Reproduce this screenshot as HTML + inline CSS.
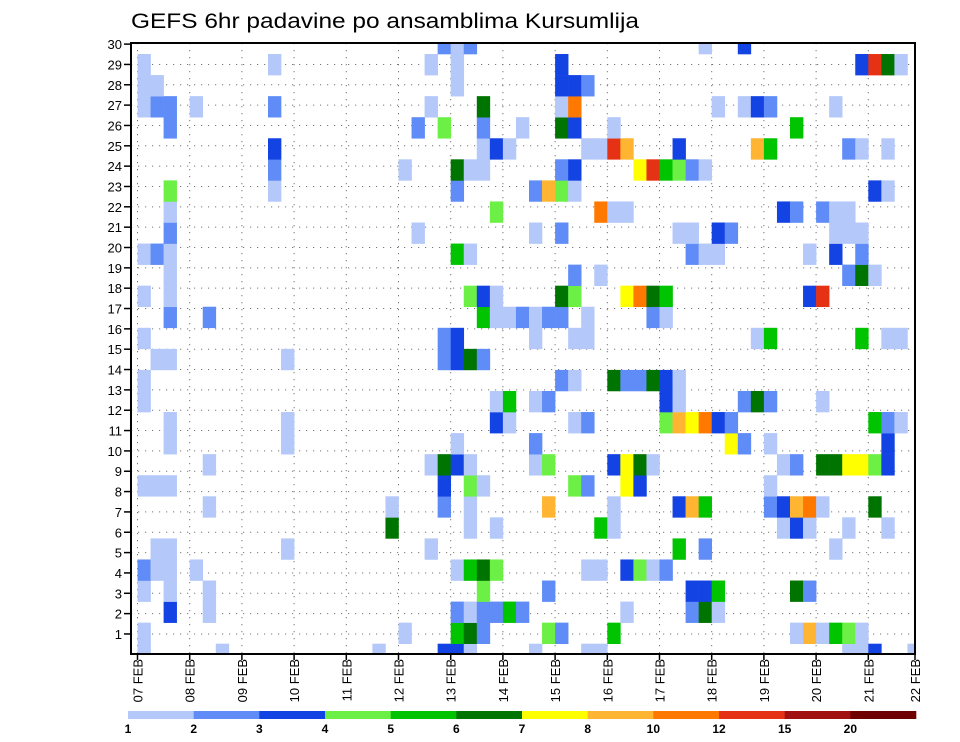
<!DOCTYPE html>
<html><head><meta charset="utf-8"><style>
html,body{margin:0;padding:0;background:#fff;}
svg{display:block;font-family:"Liberation Sans",sans-serif;}
</style></head><body>
<svg id="chart" width="960" height="742" viewBox="0 0 960 742" xmlns="http://www.w3.org/2000/svg">
<rect x="0" y="0" width="960" height="742" fill="#fff"/>
<text x="131" y="28" font-size="21" textLength="508" lengthAdjust="spacingAndGlyphs" fill="#000">GEFS 6hr padavine po ansamblima Kursumlija</text>
<defs><clipPath id="plotclip"><rect x="131" y="43" width="784" height="611"/></clipPath></defs>
<g id="grid"></g>
<g id="cells" clip-path="url(#plotclip)"></g>
<g id="axes"></g>
<g id="colorbar"></g>
</svg>
<script>
// ---- data ----
const dayLabels = ["07 FEB","08 FEB","09 FEB","10 FEB","11 FEB","12 FEB","13 FEB","14 FEB","15 FEB","16 FEB","17 FEB","18 FEB","19 FEB","20 FEB","21 FEB","22 FEB"];
const yTickLabels = [1,2,3,4,5,6,7,8,9,10,11,12,13,14,15,16,17,18,19,20,21,22,23,24,25,26,27,28,29,30];
const levelBreaks = [1,2,3,4,5,6,7,8,10,12,15,20];
const levelColors = ["#b4c8fa","#5f8cf6","#1443e4","#6cf046","#00c400","#007400","#ffff00","#ffb432","#ff7800","#e63214","#a01010","#700000"];
// member rows (index 0 = bottom) : "step:precip" pairs
const member29 = "23:2.5 24:1.5 25:2.5 43:1.5 46:3.5";
const member28 = "0:1.5 10:1.5 22:1.5 24:1.5 32:3.5 55:3.5 56:13 57:6.5 58:1.5";
const member27 = "0:1.5 1:1.5 24:1.5 32:3.5 33:3.5 34:2.5";
const member26 = "0:1.5 1:2.5 2:2.5 4:1.5 10:2.5 22:1.5 26:6.5 32:1.5 33:11 44:1.5 46:1.5 47:3.5 48:2.5 53:1.5";
const member25 = "2:2.5 21:2.5 23:4.5 26:2.5 29:1.5 32:6.5 33:3.5 36:1.5 50:5.5";
const member24 = "10:3.5 26:1.5 27:3.5 28:1.5 34:1.5 35:1.5 36:13 37:9 41:3.5 47:9 48:5.5 54:2.5 55:1.5 57:1.5";
const member23 = "10:2.5 20:1.5 24:6.5 25:1.5 26:1.5 32:2.5 33:3.5 38:7.5 39:13 40:5.5 41:4.5 42:2.5 43:1.5";
const member22 = "2:4.5 10:1.5 24:2.5 30:2.5 31:9 32:4.5 33:1.5 56:3.5 57:1.5";
const member21 = "2:1.5 27:4.5 35:11 36:1.5 37:1.5 49:3.5 50:2.5 52:2.5 53:1.5 54:1.5";
const member20 = "2:2.5 21:1.5 30:1.5 32:2.5 41:1.5 42:1.5 44:3.5 45:2.5 53:1.5 54:1.5 55:1.5";
const member19 = "0:1.5 1:2.5 2:1.5 24:5.5 25:1.5 42:2.5 43:1.5 44:1.5 51:1.5 53:3.5 55:2.5";
const member18 = "2:1.5 33:2.5 35:1.5 54:2.5 55:6.5 56:1.5";
const member17 = "0:1.5 2:1.5 25:4.5 26:3.5 27:1.5 32:6.5 33:4.5 37:7.5 38:11 39:6.5 40:5.5 51:3.5 52:13";
const member16 = "2:2.5 5:2.5 26:5.5 27:1.5 28:1.5 29:2.5 30:1.5 31:2.5 32:2.5 34:1.5 39:2.5 40:1.5";
const member15 = "0:1.5 23:2.5 24:3.5 30:1.5 33:1.5 34:1.5 47:1.5 48:5.5 55:5.5 57:1.5 58:1.5";
const member14 = "1:1.5 2:1.5 11:1.5 23:2.5 24:3.5 25:6.5 26:2.5";
const member13 = "0:1.5 32:2.5 33:1.5 36:6.5 37:2.5 38:2.5 39:6.5 40:3.5 41:1.5";
const member12 = "0:1.5 27:1.5 28:5.5 30:1.5 31:2.5 40:3.5 41:1.5 46:2.5 47:6.5 48:2.5 52:1.5";
const member11 = "2:1.5 11:1.5 27:3.5 28:1.5 33:1.5 34:2.5 40:4.5 41:9 42:7.5 43:11 44:3.5 45:2.5 56:5.5 57:2.5 58:1.5";
const member10 = "2:1.5 11:1.5 24:1.5 30:2.5 45:7.5 46:2.5 48:1.5 57:3.5";
const member9 = "5:1.5 22:1.5 23:6.5 24:3.5 25:1.5 30:1.5 31:4.5 36:3.5 37:7.5 38:6.5 39:1.5 49:1.5 50:2.5 52:6.5 53:6.5 54:7.5 55:7.5 56:4.5 57:3.5";
const member8 = "0:1.5 1:1.5 2:1.5 23:3.5 25:4.5 26:1.5 33:4.5 34:2.5 37:7.5 38:3.5 48:1.5";
const member7 = "5:1.5 19:1.5 23:2.5 25:1.5 31:9 36:1.5 41:3.5 42:9 43:5.5 48:2.5 49:3.5 50:9 51:11 52:1.5 56:6.5";
const member6 = "19:6.5 25:1.5 27:1.5 35:5.5 36:1.5 49:1.5 50:3.5 51:1.5 54:1.5 57:1.5";
const member5 = "1:1.5 2:1.5 11:1.5 22:1.5 41:5.5 43:2.5 53:1.5";
const member4 = "0:2.5 1:1.5 2:1.5 4:1.5 24:1.5 25:5.5 26:6.5 27:4.5 34:1.5 35:1.5 37:3.5 38:4.5 39:1.5 40:2.5";
const member3 = "0:1.5 2:1.5 5:1.5 26:4.5 31:2.5 42:3.5 43:3.5 44:5.5 50:6.5 51:2.5";
const member2 = "2:3.5 5:1.5 24:2.5 25:1.5 26:2.5 27:2.5 28:5.5 29:2.5 37:1.5 42:2.5 43:6.5 44:1.5";
const member1 = "0:1.5 20:1.5 24:5.5 25:6.5 26:2.5 31:4.5 32:2.5 36:5.5 50:1.5 51:9 52:1.5 53:5.5 54:4.5 55:1.5";
const member0 = "0:1.5 6:1.5 18:1.5 23:3.5 24:3.5 25:1.5 30:1.5 34:1.5 35:1.5 54:1.5 55:1.5 56:3.5 59:1.5";
const memberRows = [member0,member1,member2,member3,member4,member5,member6,member7,member8,member9,member10,member11,member12,member13,member14,member15,member16,member17,member18,member19,member20,member21,member22,member23,member24,member25,member26,member27,member28,member29];

// ---- scales ----
const NS = "http://www.w3.org/2000/svg";
const PL = 131, PR = 915, PT = 43, PB = 654;
const STEP_W = 13.05, X0 = 137.5;
const CELL_H = 21.06, CELL_BOTTOM0 = 664.76;
function xStep(s){ return X0 + STEP_W * s; }
function xDay(d){ return X0 + STEP_W * 4 * d; }
function yCellTop(n){ return CELL_BOTTOM0 - CELL_H * (n + 1); }
function yLabel(r){ return 654.3 - 20.34 * r; }
function colorFor(v){
  let idx = -1;
  for (let i = 0; i < levelBreaks.length; i++) if (v >= levelBreaks[i]) idx = i;
  return idx < 0 ? null : levelColors[idx];
}
function mk(tag, attrs, parent){
  const e = document.createElementNS(NS, tag);
  for (const k in attrs) e.setAttribute(k, attrs[k]);
  parent.appendChild(e);
  return e;
}

// ---- grid ----
const grid = document.getElementById("grid");
for (let r = 1; r < 30; r++) {
  const ln = mk("line", {x1: PL, x2: PR, y1: yLabel(r), y2: yLabel(r), stroke: "#777", "stroke-width": 1, "stroke-dasharray": "1.2 5.8"}, grid);
  
  
}
for (let d = 0; d < dayLabels.length; d++) {
  const x = Math.min(xDay(d), PR);
  if (x >= PR - 1) continue;
  const ln = mk("line", {x1: x, x2: x, y1: PT, y2: PB, stroke: "#777", "stroke-width": 1, "stroke-dasharray": "1.2 5.8"}, grid);
  
  
}

// ---- cells ----
const cells = document.getElementById("cells");
memberRows.forEach((row, n) => {
  row.trim().split(/\s+/).forEach(p => {
    if (!p) return;
    const [s, v] = p.split(":").map(Number);
    const c = colorFor(v);
    if (!c) return;
    const rc = mk("rect", {x: xStep(s), y: yCellTop(n), width: STEP_W + 0.3, height: CELL_H + 0.3, fill: c}, cells);
    
    
  });
});

// ---- axes ----
const axes = document.getElementById("axes");
const frame = mk("rect", {x: PL, y: PT, width: PR - PL, height: PB - PT, fill: "none", stroke: "#000", "stroke-width": 2}, axes);


yTickLabels.forEach(r => {
  const y = yLabel(r);
  const t = mk("line", {x1: PL - 7, x2: PL, y1: y, y2: y, stroke: "#000", "stroke-width": 1.5}, axes);
  
  
  const tx = mk("text", {x: PL - 9, y: y + 5, "font-size": 13, "text-anchor": "end", fill: "#000"}, axes);
  tx.textContent = r;
  
  
});
dayLabels.forEach((lab, d) => {
  const x = Math.min(xDay(d), PR);
  const t = mk("line", {x1: x, x2: x, y1: PB, y2: PB + 6, stroke: "#000", "stroke-width": 1.5}, axes);
  
  
  const tx = mk("text", {x: 0, y: 0, "font-size": 13, "text-anchor": "end", fill: "#000", transform: `translate(${x + 5},${PB + 5}) rotate(-90)`}, axes);
  tx.textContent = lab;
  
  
});

// ---- colorbar ----
const cb = document.getElementById("colorbar");
const CB_X0 = 128, CB_W = (916 - 128) / levelColors.length;
levelColors.forEach((c, i) => {
  const r = mk("rect", {x: CB_X0 + CB_W * i, y: 711, width: CB_W + 0.3, height: 8, fill: c}, cb);
  
  
});
levelBreaks.forEach((b, i) => {
  const tx = mk("text", {x: CB_X0 + CB_W * i, y: 733, "font-size": 12, "font-weight": "bold", "text-anchor": "middle", fill: "#000"}, cb);
  tx.textContent = b;
  
  
});
</script>
</body></html>
